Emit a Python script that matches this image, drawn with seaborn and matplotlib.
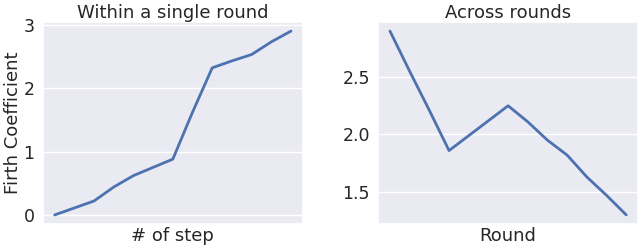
import numpy as np
import pandas as pd
import matplotlib
matplotlib.use("Agg")
import matplotlib.pyplot as plt
import seaborn as sns

# firth coefficient within one round (13 steps)
step = list(range(13))
within_round = [0.0, 0.11, 0.22, 0.44, 0.62, 0.75, 0.88, 1.62, 2.32, 2.43, 2.53, 2.73, 2.90]

# firth coefficient across rounds
rnd = list(range(13))
across_rounds = [2.90, 2.55, 2.21, 1.86, 1.99, 2.12, 2.25, 2.11, 1.95, 1.82, 1.63, 1.47, 1.30]

if __name__ == "__main__":
    sns.set_theme(style="darkgrid")
    plt.rcParams["font.family"] = ["DejaVu Sans"]

    df_within = pd.DataFrame({"step": step, "coef": within_round})
    df_across = pd.DataFrame({"round": rnd, "coef": across_rounds})

    fig, axes = plt.subplots(1, 2, figsize=(6.4, 2.46), dpi=100)

    sns.lineplot(data=df_within, x="step", y="coef", ax=axes[0], linewidth=2)
    axes[0].set_title("Within a single round", fontsize=13, pad=3)
    axes[0].set_xlabel("# of step", fontsize=13, labelpad=2)
    axes[0].set_ylabel("Firth Coefficient", fontsize=13)
    axes[0].yaxis.set_label_coords(-0.08, 0.5)
    axes[0].set_yticks([0, 1, 2, 3])

    sns.lineplot(data=df_across, x="round", y="coef", ax=axes[1], linewidth=2)
    axes[1].set_title("Across rounds", fontsize=13, pad=3)
    axes[1].set_xlabel("Round", fontsize=13, labelpad=2)
    axes[1].set_ylabel("")
    axes[1].set_yticks([1.5, 2.0, 2.5])

    for ax in axes:
        ax.set_xticks([])
        ax.tick_params(axis="y", labelsize=12.5, length=0, pad=6)

    plt.subplots_adjust(left=0.067, right=0.997, top=0.911, bottom=0.089, wspace=0.29)
    plt.savefig("out.png", dpi=100)
